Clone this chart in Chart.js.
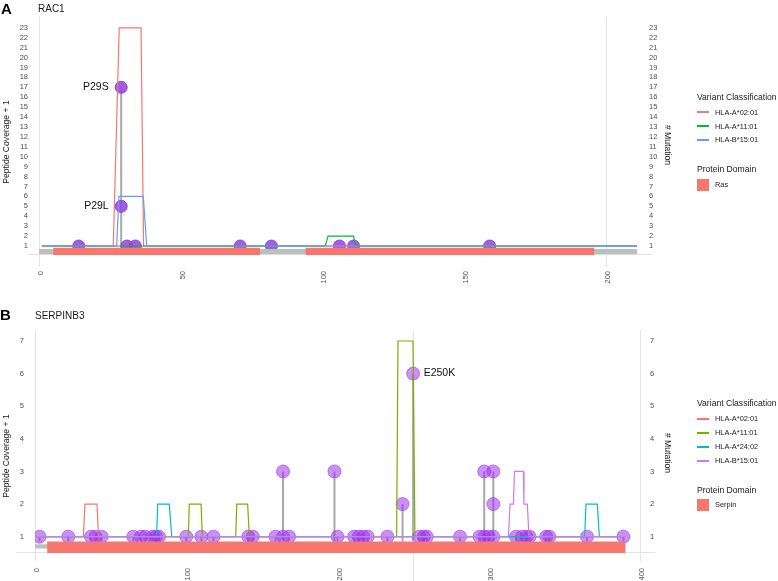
<!DOCTYPE html>
<html>
<head>
<meta charset="utf-8">
<script src="https://cdn.jsdelivr.net/npm/chart.js@4.4.1/dist/chart.umd.min.js"></script>
<style>
html,body{margin:0;padding:0;background:#fff;}
body{width:778px;height:581px;position:relative;overflow:hidden;font-family:"Liberation Sans",Arial,sans-serif;color:#1a1a1a;}
.box{position:absolute;left:0;width:778px;}
.t{position:absolute;white-space:nowrap;line-height:1;}
.rl{transform:translate(-50%,-50%) rotate(-90deg);}
.rr{transform:translate(-50%,-50%) rotate(90deg);}
.key{position:absolute;width:12px;height:2px;}
.sq{position:absolute;width:12px;height:12px;background:#F8766D;}
</style>
</head>
<body>
<div class="box" style="top:0;height:290px"><canvas id="cA"></canvas></div>
<div class="box" style="top:290px;height:291px"><canvas id="cB"></canvas></div>

<div class="t" style="left:1px;top:1px;font-size:15px;font-weight:bold;color:#000">A</div>
<div class="t" style="left:38px;top:4px;font-size:10px">RAC1</div>
<div class="t rl" style="left:6px;top:142px;font-size:8.6px">Peptide Coverage + 1</div>
<div class="t rr" style="left:668px;top:145px;font-size:8.6px"># Mutation</div>

<div class="t" style="left:0px;top:307px;font-size:15px;font-weight:bold;color:#000">B</div>
<div class="t" style="left:35px;top:311px;font-size:10px">SERPINB3</div>
<div class="t rl" style="left:6px;top:456px;font-size:8.6px">Peptide Coverage + 1</div>
<div class="t rr" style="left:668px;top:453px;font-size:8.6px"># Mutation</div>

<div id="legA"></div>
<div id="legB"></div>

<script>
// ---------------- RAC1 (panel A) ----------------
const racLength = 211;
const racDomainName = 'Ras';
const racDomainStart = [5, 94];
const racDomainEnd = [78, 196];
const racAlleles = ['HLA-A*02:01', 'HLA-A*11:01', 'HLA-B*15:01'];
const racPepA0201X = [1, 26.2, 28.3, 36, 36.9, 211];
const racPepA0201Y = [1, 1, 23, 23, 1, 1];
const racPepA1101X = [1, 101, 102, 111, 111.7, 211];
const racPepA1101Y = [1, 1, 2, 2, 1, 1];
const racPepB1501X = [1, 27.4, 28.2, 36.8, 38, 211];
const racPepB1501Y = [1, 1, 6, 6, 1, 1];
const racMutPos = [14, 29, 29, 31, 34, 71, 82, 106, 111, 159];
const racMutCount = [1, 17, 5, 1, 1, 1, 1, 1, 1, 1];
const racMutName = ['', 'P29S', 'P29L', '', '', '', '', '', '', ''];
const racXTicks = [0, 50, 100, 150, 200];
const racYTicks = [1, 2, 3, 4, 5, 6, 7, 8, 9, 10, 11, 12, 13, 14, 15, 16, 17, 18, 19, 20, 21, 22, 23];

// ---------------- SERPINB3 (panel B) ----------------
const serpLength = 390;
const serpDomainName = 'Serpin';
const serpDomainStart = [8];
const serpDomainEnd = [390.5];
const serpAlleles = ['HLA-A*02:01', 'HLA-A*11:01', 'HLA-A*24:02', 'HLA-B*15:01'];
const serpPepA0201X = [1, 32, 33, 41, 42, 390];
const serpPepA0201Y = [1, 1, 2, 2, 1, 1];
const serpPepA1101X = [1, 101.4, 102, 109.8, 110.6, 132.7, 133.4, 140.6, 141.7, 239.1, 240, 249.9, 251.2, 390];
const serpPepA1101Y = [1, 1, 2, 2, 1, 1, 2, 2, 1, 1, 7, 7, 1, 1];
const serpPepA2402X = [1, 80.4, 81.1, 88.8, 90.4, 363.4, 364.3, 371.8, 373.1, 390];
const serpPepA2402Y = [1, 1, 2, 2, 1, 1, 2, 2, 1, 1];
const serpPepB1501X = [1, 313, 314.1, 316.3, 317, 322.9, 323.3, 325.5, 326.6, 390];
const serpPepB1501Y = [1, 1, 2, 2, 3, 3, 2, 2, 1, 1];
const serpMutPos = [3, 22, 37, 40, 44, 65, 70, 73, 78, 80, 82, 100, 110, 118, 141, 144, 159, 164, 168,
  200, 211, 214, 217, 220, 233, 254, 257, 259, 281, 294, 297, 300, 303, 318, 322, 325, 327, 338, 340, 365, 389,
  164, 198, 243, 250, 297, 303, 303];
const serpMutCount = [1, 1, 1, 1, 1, 1, 1, 1, 1, 1, 1, 1, 1, 1, 1, 1, 1, 1, 1,
  1, 1, 1, 1, 1, 1, 1, 1, 1, 1, 1, 1, 1, 1, 1, 1, 1, 1, 1, 1, 1, 1,
  3, 3, 2, 6, 3, 3, 2];
const serpMutName = serpMutPos.map((p, i) => (p === 250 && serpMutCount[i] === 6) ? 'E250K' : '');
const serpXTicks = [0, 100, 200, 300, 400];
const serpYTicks = [1, 2, 3, 4, 5, 6, 7];

// ---------------- styles ----------------
const domainColor = '#F8766D';
const backboneColor = '#BEBEBE';
const colorsA = ['#F8766D', '#00BA38', '#619CFF'];
const colorsB = ['#F8766D', '#7CAE00', '#00BFC4', '#C77CFF'];

Chart.defaults.font.family = '"Liberation Sans", Arial, sans-serif';
Chart.defaults.color = '#4d4d4d';

function pts(xs, ys) { return xs.map((v, i) => ({x: v, y: ys[i]})); }
function stemPts(pos, counts, base) {
  const d = [];
  pos.forEach((p, i) => { d.push({x: p, y: base}, {x: p, y: counts[i]}, {x: p, y: null}); });
  return d;
}

const refLinesPlugin = {
  id: 'refLines',
  beforeDatasetsDraw(chart, args, o) {
    const {ctx, chartArea: a} = chart;
    const x = chart.scales.x;
    ctx.save();
    ctx.strokeStyle = o.color;
    ctx.lineWidth = 1;
    (o.v || []).forEach(v => {
      const px = Math.round(x.getPixelForValue(v.value)) + 0.5;
      ctx.beginPath(); ctx.moveTo(px, a.top); ctx.lineTo(px, a.bottom + v.extend); ctx.stroke();
    });
    const py = Math.round(a.bottom) - 0.5;
    ctx.beginPath(); ctx.moveTo(a.left - o.hLeft, py); ctx.lineTo(a.right + o.hRight, py); ctx.stroke();
    ctx.restore();
  }
};

const mutLabelPlugin = {
  id: 'mutLabels',
  afterDatasetsDraw(chart, args, o) {
    const {ctx} = chart;
    const x = chart.scales.x, y = chart.scales.y;
    ctx.save();
    ctx.font = o.font;
    ctx.fillStyle = o.color;
    ctx.textBaseline = 'middle';
    o.pos.forEach((p, i) => {
      const name = o.names[i];
      if (!name) return;
      const px = x.getPixelForValue(p), py = y.getPixelForValue(o.counts[i]);
      if (o.side === 'left') { ctx.textAlign = 'right'; ctx.fillText(name, px - o.gap, py); }
      else { ctx.textAlign = 'left'; ctx.fillText(name, px + o.gap, py); }
    });
    ctx.restore();
  }
};

function buildChart(id, P) {
  const ds = [];
  P.domStart.forEach((s, i) => ds.push({
    type: 'line', data: [{x: s, y: P.domTop}, {x: P.domEnd[i], y: P.domTop}],
    fill: {value: P.domBottom}, backgroundColor: domainColor, borderWidth: 0, pointRadius: 0, order: 0
  }));
  ds.push({
    type: 'line', data: [{x: 0, y: P.backTop}, {x: P.length, y: P.backTop}],
    fill: {value: P.backBottom}, backgroundColor: backboneColor, borderWidth: 0, pointRadius: 0, order: 1
  });
  P.peptides.forEach((pp, i) => ds.push({
    type: 'line', data: pts(pp.x, pp.y), borderColor: P.colors[i], borderWidth: 1.2,
    pointRadius: 0, fill: false, tension: 0, order: 2 + (P.peptides.length - i)
  }));
  ds.push({
    type: 'scatter', data: pts(P.mutPos, P.mutCount), pointRadius: P.r,
    backgroundColor: P.ptFill, borderColor: P.ptBorder, borderWidth: 1, order: 20
  });
  ds.push({
    type: 'line', data: stemPts(P.mutPos, P.mutCount, P.stemBase), borderColor: '#A8A8A8',
    borderWidth: 2, pointRadius: 0, spanGaps: false, fill: false, order: 21
  });

  const yCommon = (w, pad, pos) => ({
    type: 'linear', position: pos, min: P.yMin, max: P.yMax,
    afterBuildTicks: s => { s.ticks = P.yTicks.map(v => ({value: v})); },
    afterFit: s => { s.width = w; },
    grid: {display: false, drawTicks: false}, border: {display: false},
    ticks: {padding: pad, font: {size: 7.5}, color: '#4d4d4d', autoSkip: false}
  });

  return new Chart(document.getElementById(id), {
    type: 'line',
    data: {datasets: ds},
    plugins: [refLinesPlugin, mutLabelPlugin],
    options: {
      responsive: true, maintainAspectRatio: false, animation: false, events: [],
      layout: {padding: {left: 0, top: P.padTop, right: 100, bottom: 0}},
      scales: {
        x: {
          type: 'linear', min: 0, max: P.xMax,
          afterBuildTicks: s => { s.ticks = P.xTicks.map(v => ({value: v})); },
          afterFit: s => { s.height = P.xHeight; },
          grid: {display: false, drawTicks: false}, border: {display: false},
          ticks: {minRotation: 90, maxRotation: 90, padding: P.xPad, labelOffset: 2,
                  font: {size: 7.5}, color: '#4d4d4d', autoSkip: false}
        },
        y: yCommon(P.leftW, 11, 'left'),
        y2: yCommon(P.rightW, P.rightPad, 'right')
      },
      plugins: {
        legend: {display: false}, tooltip: {enabled: false},
        refLines: P.ref,
        mutLabels: {pos: P.mutPos, counts: P.mutCount, names: P.mutName, side: P.labelSide,
                    gap: P.labelGap, font: '10.5px "Liberation Sans", Arial, sans-serif', color: '#111'}
      }
    }
  });
}

buildChart('cA', {
  length: racLength, xMax: racLength, xTicks: racXTicks, yTicks: racYTicks,
  yMin: 0.095, yMax: 24.14, padTop: 16, xHeight: 35, xPad: 16, leftW: 39, rightW: 41, rightPad: 12,
  domStart: racDomainStart, domEnd: racDomainEnd, domTop: 0.83, domBottom: -0.2,
  backTop: 0.7, backBottom: 0.17,
  peptides: [{x: racPepA0201X, y: racPepA0201Y}, {x: racPepA1101X, y: racPepA1101Y}, {x: racPepB1501X, y: racPepB1501Y}],
  colors: colorsA,
  mutPos: racMutPos, mutCount: racMutCount, mutName: racMutName, stemBase: 0.83,
  r: 6, ptFill: 'rgba(150, 70, 225, 0.88)', ptBorder: 'rgba(140, 60, 215, 0.9)',
  labelSide: 'left', labelGap: 12.5,
  ref: {color: '#e4e4e4', v: [{value: 0, extend: 12}, {value: 200, extend: 12}], hLeft: 12, hRight: 16}
});

buildChart('cB', {
  length: serpLength, xMax: 400, xTicks: serpXTicks, yTicks: serpYTicks,
  yMin: 0.5, yMax: 7.337, padTop: 40, xHeight: 28, xPad: 15, leftW: 35, rightW: 38, rightPad: 10,
  domStart: serpDomainStart, domEnd: serpDomainEnd, domTop: 0.85, domBottom: 0.5,
  backTop: 0.77, backBottom: 0.64,
  peptides: [{x: serpPepA0201X, y: serpPepA0201Y}, {x: serpPepA1101X, y: serpPepA1101Y},
             {x: serpPepA2402X, y: serpPepA2402Y}, {x: serpPepB1501X, y: serpPepB1501Y}],
  colors: colorsB,
  mutPos: serpMutPos, mutCount: serpMutCount, mutName: serpMutName, stemBase: 0.85,
  r: 6.5, ptFill: 'rgba(160, 40, 240, 0.52)', ptBorder: 'rgba(150, 60, 230, 0.6)',
  labelSide: 'right', labelGap: 10.5,
  ref: {color: '#e4e4e4', v: [{value: 0, extend: 8}, {value: 250, extend: 30}, {value: 400, extend: 8}], hLeft: 19, hRight: 15}
});

// ---------------- legends (HTML text) ----------------
function legend(elId, alleles, colors, domainName, yTitle, yKeys, yDomTitle, ySq) {
  const el = document.getElementById(elId);
  let h = `<div class="t" style="left:697px;top:${yTitle - 4.3}px;font-size:8.6px">Variant Classification</div>`;
  alleles.forEach((a, i) => {
    h += `<div class="key" style="left:697px;top:${yKeys[i] - 1}px;background:${colors[i]}"></div>`;
    h += `<div class="t" style="left:715px;top:${yKeys[i] - 3.7}px;font-size:7.4px">${a}</div>`;
  });
  h += `<div class="t" style="left:697px;top:${yDomTitle - 4.3}px;font-size:8.6px">Protein Domain</div>`;
  h += `<div class="sq" style="left:697px;top:${ySq}px"></div>`;
  h += `<div class="t" style="left:715px;top:${ySq + 6 - 3.7}px;font-size:7.4px">${domainName}</div>`;
  el.innerHTML = h;
}
legend('legA', racAlleles, colorsA, racDomainName, 97, [112.3, 126.3, 140], 169.3, 179);
legend('legB', serpAlleles, colorsB, serpDomainName, 403.3, [419, 432.7, 446.7, 460.7], 490, 498.5);
</script>
</body>
</html>
